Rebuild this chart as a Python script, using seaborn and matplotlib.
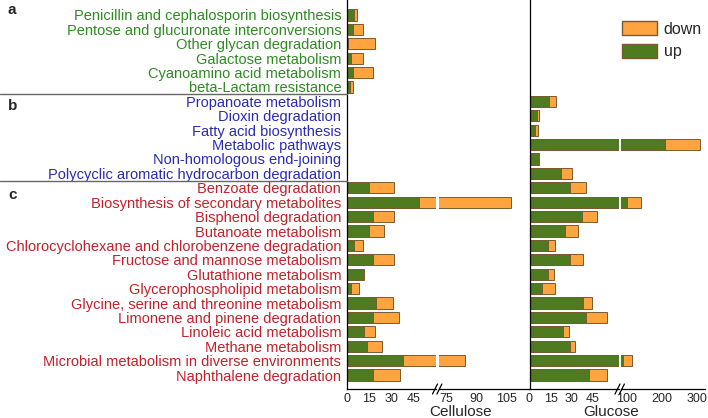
import matplotlib.pyplot as plt
import seaborn as sns
import pandas as pd
from matplotlib.lines import Line2D
from matplotlib.patches import Patch
from matplotlib.transforms import blended_transform_factory

# pathway names, one list per group
pathways_a = [
    "Penicillin and cephalosporin biosynthesis",
    "Pentose and glucuronate interconversions",
    "Other glycan degradation",
    "Galactose metabolism",
    "Cyanoamino acid metabolism",
    "beta-Lactam resistance",
]
pathways_b = [
    "Propanoate metabolism",
    "Dioxin degradation",
    "Fatty acid biosynthesis",
    "Metabolic pathways",
    "Non-homologous end-joining",
    "Polycyclic aromatic hydrocarbon degradation",
]
pathways_c = [
    "Benzoate degradation",
    "Biosynthesis of secondary metabolites",
    "Bisphenol degradation",
    "Butanoate metabolism",
    "Chlorocyclohexane and chlorobenzene degradation",
    "Fructose and mannose metabolism",
    "Glutathione metabolism",
    "Glycerophospholipid metabolism",
    "Glycine, serine and threonine metabolism",
    "Limonene and pinene degradation",
    "Linoleic acid metabolism",
    "Methane metabolism",
    "Microbial metabolism in diverse environments",
    "Naphthalene degradation",
]

# gene counts
cellulose_up = [5, 4, 1, 3, 4, 2,
                0, 0, 0, 0, 0, 0,
                15, 49, 18, 15, 5, 18, 11, 3, 20, 18, 12, 14, 38, 18]
cellulose_down = [2, 7, 18, 8, 14, 2,
                  0, 0, 0, 0, 0, 0,
                  17, 58, 14, 10, 6, 14, 1, 5, 11, 17, 7, 10, 46, 18]
glucose_up = [0, 0, 0, 0, 0, 0,
              14, 5, 4, 209, 7, 22,
              29, 100, 37, 25, 13, 29, 13, 9, 38, 40, 24, 29, 90, 42]
glucose_down = [0, 0, 0, 0, 0, 0,
                5, 2, 2, 101, 0, 8,
                11, 40, 11, 9, 5, 9, 4, 9, 6, 15, 4, 3, 26, 13]

cel_lo_ticks = [0, 15, 30, 45]
cel_hi_ticks = [75, 90, 105]
glu_lo_ticks = [0, 15, 30, 45]
glu_hi_ticks = [100, 200, 300]

GREEN = "#4f7a1f"
ORANGE = "#ffa43f"
EDGE = "#7a5a32"
LABEL_COLORS = {"a": "#2e8b22", "b": "#2a2ab4", "c": "#c4202a"}

pathways = pathways_a + pathways_b + pathways_c
groups = ["a"] * len(pathways_a) + ["b"] * len(pathways_b) + ["c"] * len(pathways_c)

df = pd.DataFrame({
    "pathway": pathways,
    "group": groups,
    "cel_up": cellulose_up,
    "cel_total": [u + d for u, d in zip(cellulose_up, cellulose_down)],
    "glu_up": glucose_up,
    "glu_total": [u + d for u, d in zip(glucose_up, glucose_down)],
})

sns.set_style("white")
plt.rcParams["font.family"] = ["Liberation Sans", "DejaVu Sans"]

W, H = 708, 418
fig = plt.figure(figsize=(W / 100, H / 100), dpi=100)

bottom = 1 - 389 / H
height = 1 - bottom


def px_axes(x0, x1):
    return fig.add_axes([x0 / W, bottom, (x1 - x0) / W, height])


ax_cl = px_axes(346.7, 436.0)
ax_ch = px_axes(438.5, 528.5)
ax_gl = px_axes(529.5, 618.5)
ax_gh = px_axes(621.0, 705.0)

panels = [
    (ax_cl, "cel", (0, 60.3), cel_lo_ticks, True),
    (ax_ch, "cel", (70.9, 115.9), cel_hi_ticks, False),
    (ax_gl, "glu", (0, 63.0), glu_lo_ticks, True),
    (ax_gh, "glu", (83.7, 323.7), glu_hi_ticks, False),
]

for ax, key, xlim, ticks, has_left in panels:
    sub = df[df[f"{key}_total"] > 0]
    sns.barplot(data=sub, x=f"{key}_total", y="pathway", order=pathways,
                orient="h", color=ORANGE, saturation=1, width=0.78,
                edgecolor=EDGE, linewidth=0.7, errorbar=None, ax=ax)
    sns.barplot(data=sub, x=f"{key}_up", y="pathway", order=pathways,
                orient="h", color=GREEN, saturation=1, width=0.78,
                edgecolor=EDGE, linewidth=0.7, errorbar=None, ax=ax)
    ax.set_xlim(*xlim)
    ax.set_ylim(len(pathways) - 0.03, -1.04)
    ax.set_xticks(ticks)
    ax.set_xticklabels([str(t) for t in ticks], fontsize=9)
    ax.tick_params(axis="x", length=2.5, width=0.8, pad=0.5, color="black")
    ax.set_xlabel("")
    ax.set_ylabel("")
    ax.patch.set_alpha(0)
    for side in ["top", "right"]:
        ax.spines[side].set_visible(False)
    ax.spines["bottom"].set_color("black")
    ax.spines["bottom"].set_linewidth(0.9)
    ax.spines["left"].set_visible(has_left)
    ax.spines["left"].set_color("black")
    ax.spines["left"].set_linewidth(0.9)
    if ax is ax_cl:
        ax.set_yticks(range(len(pathways)))
        ax.set_yticklabels(pathways, fontsize=10.5)
        ax.tick_params(axis="y", length=0, pad=4)
        for lab, g in zip(ax.get_yticklabels(), groups):
            lab.set_color(LABEL_COLORS[g])
    else:
        ax.set_yticks([])

# group separators in the label area
trans = blended_transform_factory(fig.transFigure, ax_cl.transData)
for yy in [5.5, 11.5]:
    fig.add_artist(Line2D([0, 346.7 / W], [yy, yy], transform=trans,
                          color="#666666", lw=1))

# panel letters
for letter, ypx in [("a", 10), ("b", 106), ("c", 195)]:
    fig.text(8 / W, 1 - ypx / H, letter, fontsize=11, fontweight="bold",
             va="center", ha="left")

# axis break marks
for xpx in [437.2, 619.7]:
    for dx in [-2.2, 2.2]:
        xc = xpx + dx
        fig.add_artist(Line2D([(xc - 2.5) / W, (xc + 2.5) / W],
                              [1 - 394 / H, 1 - 384 / H],
                              color="black", lw=0.9))

fig.text(461 / W, 1 - 411.5 / H, "Cellulose", fontsize=11, ha="center", va="center")
fig.text(611 / W, 1 - 411.5 / H, "Glucose", fontsize=11, ha="center", va="center")

handles = [Patch(facecolor=ORANGE, edgecolor=EDGE, label="down"),
           Patch(facecolor=GREEN, edgecolor=EDGE, label="up")]
fig.legend(handles=handles, loc="upper left", bbox_to_anchor=(622 / W, 1 - 21 / H),
           frameon=False, fontsize=11.5, handlelength=2.2, handleheight=1.0,
           handletextpad=0.4, labelspacing=0.45, borderpad=0, borderaxespad=0)

fig.savefig("out.png", dpi=100)
